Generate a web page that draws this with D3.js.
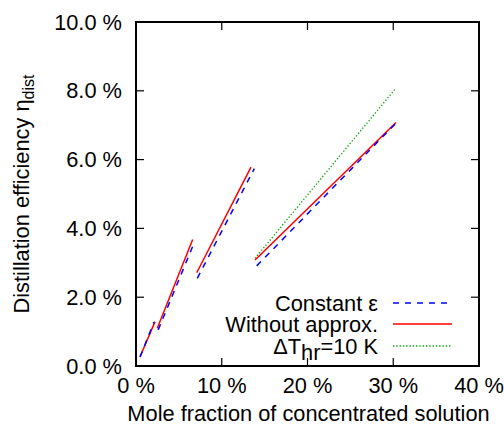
<!DOCTYPE html>
<html><head><meta charset="utf-8">
<script src="https://cdn.jsdelivr.net/npm/d3@7"></script>
<style>
html,body{margin:0;padding:0;background:#fff;}
text{font-family:"Liberation Sans",Arial,sans-serif;}
</style></head>
<body><svg id="chart" width="504" height="429"></svg>
<script>
// ---- data (percent) ----
const xConst = [0.47, 2.10, null, 2.59, 6.68, null, 7.15, 13.80, null, 14.08, 30.32];
const yConst = [0.26, 1.28, null, 1.05, 3.52, null, 2.55, 5.74, null, 2.91, 7.06];
const xExact = [0.47, 2.22, null, 2.48, 6.61, null, 7.08, 13.41, null, 13.88, 30.32];
const yExact = [0.27, 1.29, null, 1.10, 3.68, null, 2.71, 5.78, null, 3.08, 7.08];
const xDT = [13.88, 30.29];
const yDT = [3.13, 8.07];
const xTicks = [0, 10, 20, 30, 40];
const xTickLabels = ["0 %", "10 %", "20 %", "30 %", "40 %"];
const yTicks = [0, 2, 4, 6, 8, 10];
const yTickLabels = ["0.0 %", "2.0 %", "4.0 %", "6.0 %", "8.0 %", "10.0 %"];
const seriesNames = ["Constant ε", "Without approx.", "ΔT|hr|=10 K"];
const seriesColors = ["#0000ff", "#ff0000", "#00a000"];

const svg = d3.select("#chart");
const L = 136, R = 479, T = 22, B = 366;
const x = d3.scaleLinear().domain([0, 40]).range([L, R]);
const y = d3.scaleLinear().domain([0, 10]).range([B, T]);
const fs = 21.8;

// ticks (inward, mirrored)
const tl = 8;
const tg = svg.append("g").attr("stroke", "#000").attr("stroke-width", 1.2);
xTicks.forEach(v => {
  tg.append("line").attr("x1", x(v)).attr("x2", x(v)).attr("y1", B).attr("y2", B - tl);
  tg.append("line").attr("x1", x(v)).attr("x2", x(v)).attr("y1", T).attr("y2", T + tl);
});
yTicks.forEach(v => {
  tg.append("line").attr("x1", L).attr("x2", L + tl).attr("y1", y(v)).attr("y2", y(v));
  tg.append("line").attr("x1", R).attr("x2", R - tl).attr("y1", y(v)).attr("y2", y(v));
});

// tick labels
svg.append("g").selectAll("text").data(xTicks).join("text")
  .attr("x", d => x(d)).attr("y", 393).attr("text-anchor", "middle")
  .attr("font-size", fs).text((d, i) => xTickLabels[i]);
svg.append("g").selectAll("text").data(yTicks).join("text")
  .attr("x", 122).attr("y", d => y(d)).attr("dy", "0.35em").attr("text-anchor", "end")
  .attr("font-size", fs).text((d, i) => yTickLabels[i]);

// axis titles
svg.append("text").attr("x", (L + R) / 2 + 1).attr("y", 421).attr("text-anchor", "middle")
  .attr("font-size", fs).text("Mole fraction of concentrated solution");
const yl = svg.append("text").attr("transform", `translate(29,${(T + B) / 2}) rotate(-90)`)
  .attr("text-anchor", "middle").attr("font-size", fs);
yl.append("tspan").text("Distillation efficiency η");
yl.append("tspan").attr("font-size", 16).attr("dy", 5).text("dist");

// lines
const mk = (xs, ys) => xs.map((v, i) => [v, ys[i]]);
const line = d3.line().defined(d => d[0] !== null && d[1] !== null).x(d => x(d[0])).y(d => y(d[1]));
const plot = svg.append("g").attr("fill", "none");
plot.append("path").datum(mk(xDT, yDT)).attr("d", line)
  .attr("stroke", seriesColors[2]).attr("stroke-width", 1.3).attr("stroke-dasharray", "1.3,2");
plot.append("path").datum(mk(xExact, yExact)).attr("d", line)
  .attr("stroke", seriesColors[1]).attr("stroke-width", 1.5);
plot.append("path").datum(mk(xConst, yConst)).attr("d", line)
  .attr("stroke", seriesColors[0]).attr("stroke-width", 1.5).attr("stroke-dasharray", "6,6");

// legend
const legY = [303, 324, 346];
const dashes = ["6,6", null, "1.3,2"];
seriesNames.forEach((name, i) => {
  const t = svg.append("text").attr("x", 378).attr("y", legY[i]).attr("dy", "0.35em")
    .attr("text-anchor", "end").attr("font-size", fs);
  const parts = name.split("|");
  if (parts.length === 3) {
    t.append("tspan").text(parts[0]);
    t.append("tspan").attr("font-size", fs).attr("dy", 6).text(parts[1]);
    t.append("tspan").attr("dy", -6).text(parts[2]);
  } else t.text(name);
  const l = svg.append("line").attr("x1", 393).attr("x2", 452).attr("y1", legY[i]).attr("y2", legY[i])
    .attr("stroke", seriesColors[i]).attr("stroke-width", 1.5);
  if (dashes[i]) l.attr("stroke-dasharray", dashes[i]);
});

// frame
svg.append("rect").attr("x", L).attr("y", T).attr("width", R - L).attr("height", B - T)
  .attr("fill", "none").attr("stroke", "#000").attr("stroke-width", 2);
</script></body></html>
